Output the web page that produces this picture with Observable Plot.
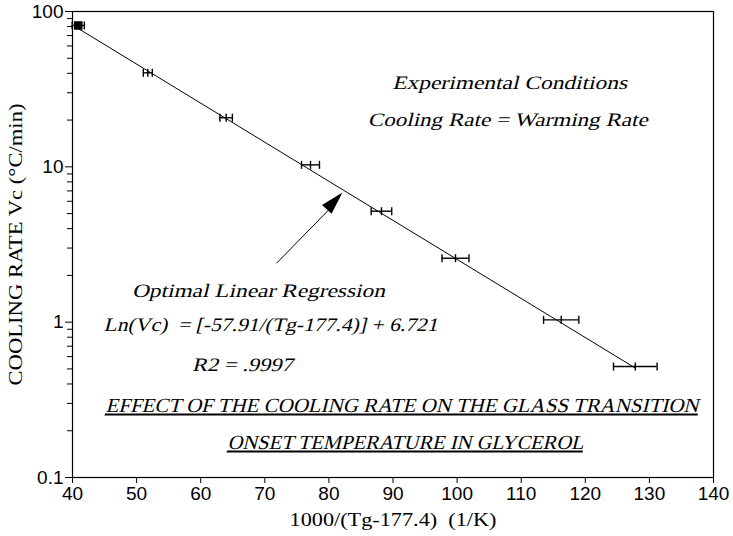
<!DOCTYPE html>
<html><head><meta charset="utf-8">
<script src="https://cdn.jsdelivr.net/npm/d3@7"></script>
<script src="https://cdn.jsdelivr.net/npm/@observablehq/plot@0.6"></script>
<style>body{margin:0;background:#fff} svg text{white-space:pre}</style>
</head><body><div id="chart"></div>
<script>
// Data
const invTg = [40.9, 51.75, 63.97, 77.13, 88.2, 99.75, 116.24, 127.8];       // 1000/(Tg-177.4)
const coolingRate = [81.3, 40.3, 20.7, 10.3, 5.18, 2.58, 1.035, 0.518];      // Vc (°C/min)
const invTgErr = [0.95, 0.7, 0.97, 1.4, 1.6, 2.1, 2.75, 3.4];               // horizontal error half-width
const xTicks = [40, 50, 60, 70, 80, 90, 100, 110, 120, 130, 140];
const yMajorTicks = [0.1, 1, 10, 100];
const yMinorTicks = [0.2, 0.3, 0.4, 0.5, 0.6, 0.7, 0.8, 0.9, 2, 3, 4, 5, 6, 7, 8, 9, 20, 30, 40, 50, 60, 70, 80, 90];
const regSlope = -57.91;   // Ln(Vc) = regSlope/(Tg-177.4) + regIntercept
const regIntercept = 6.721;
const notes = ["Experimental Conditions", "Cooling Rate = Warming Rate", "Optimal Linear Regression", "Ln(Vc)  = [-57.91/(Tg-177.4)] + 6.721", "R2 = .9997"];
const titleLines = ["EFFECT OF THE COOLING RATE ON THE GLASS TRANSITION", "ONSET TEMPERATURE IN GLYCEROL"];
const xLabel = "1000/(Tg-177.4)  (1/K)";
const yLabel = "COOLING RATE Vc (°C/min)";

const points = invTg.map((x, i) => ({x, vc: coolingRate[i], lo: x - invTgErr[i], hi: x + invTgErr[i], first: i === 0}));
const fitEnds = [invTg[0], invTg[invTg.length - 1]].map(x => ({x, vc: Math.exp(regSlope * x / 1000 + regIntercept)}));

const vTick = {draw(ctx) { ctx.moveTo(0, -4); ctx.lineTo(0, 4); }};
const headUp = {draw(ctx) { ctx.moveTo(0, 0); ctx.lineTo(-6.5, 23); ctx.lineTo(6.5, 23); ctx.closePath(); }};

const serif = "Liberation Serif, DejaVu Serif, serif";
const sans = "Liberation Sans, Arial, sans-serif";
const noteStyle = {text: d => d, textAnchor: "middle", lineAnchor: "bottom", fontSize: 19, fontFamily: serif};

const svg = Plot.plot({
  width: 733, height: 536,
  marginLeft: 72, marginRight: 20, marginTop: 11, marginBottom: 59,
  style: {background: "#fff", color: "#000"},
  x: {domain: [40, 140]},
  y: {type: "log", domain: [0.1, 100]},
  marks: [
    Plot.frame({stroke: "#000", strokeWidth: 1.2}),
    Plot.axisX({ticks: xTicks, tickSize: 6, tickPadding: 3, fontSize: 19, fontFamily: sans, label: null, tickFormat: d => String(d)}),
    Plot.axisY({ticks: yMinorTicks, tickSize: 5, tickFormat: () => "", label: null}),
    Plot.axisY({ticks: yMajorTicks, tickSize: 7, tickPadding: 2, fontSize: 19, fontFamily: sans, label: null, tickFormat: d => String(d)}),
    Plot.line(fitEnds, {x: "x", y: "vc", stroke: "#000", strokeWidth: 1}),
    Plot.ruleY(points, {y: "vc", x1: "lo", x2: "hi", stroke: "#000", strokeWidth: 1.4}),
    Plot.dot(points, {x: "lo", y: "vc", symbol: vTick, stroke: "#000", strokeWidth: 1.4, fill: "none"}),
    Plot.dot(points, {x: "hi", y: "vc", symbol: vTick, stroke: "#000", strokeWidth: 1.4, fill: "none"}),
    Plot.dot(points.filter(d => !d.first), {x: "x", y: "vc", symbol: vTick, stroke: "#000", strokeWidth: 1.4, fill: "none"}),
    Plot.dot(points.filter(d => d.first), {x: "x", y: "vc", symbol: "square", r: 4, fill: "#000", stroke: "#000"}),
    // annotation arrow
    Plot.link([0], {x1: 71.83, y1: 2.395, x2: 81.2, y2: 5.95, stroke: "#000", strokeWidth: 1}),
    Plot.dot([0], {x: 82.12, y: 6.83, symbol: headUp, rotate: 43, fill: "#000", stroke: "none"}),
    // annotations
    Plot.text([notes[0]], {...noteStyle, x: 108.2, y: 31.9}),
    Plot.text([notes[1]], {...noteStyle, x: 107.9, y: 18.45}),
    Plot.text([notes[2]], {...noteStyle, x: 69.0, y: 1.446}),
    Plot.text([notes[3]], {...noteStyle, x: 70.9, y: 0.883}),
    Plot.text([notes[4]], {...noteStyle, x: 66.5, y: 0.488}),
    Plot.text([titleLines[0]], {...noteStyle, x: 91.4, y: 0.2656, fontSize: 20}),
    Plot.text([titleLines[1]], {...noteStyle, x: 91.95, y: 0.1535, fontSize: 20}),
    // axis labels
    Plot.text([xLabel], {frameAnchor: "bottom", dy: 48, text: d => d, textAnchor: "middle", lineAnchor: "bottom", fontSize: 19, fontFamily: serif}),
    Plot.text([yLabel], {frameAnchor: "left", dx: -57, rotate: -90, text: d => d, textAnchor: "middle", lineAnchor: "middle", fontSize: 19, fontFamily: serif})
  ]
});

const fitWidths = new Map([
  [notes[0], 235], [notes[1], 280], [notes[2], 253], [notes[3], 334], [notes[4], 101],
  [titleLines[0], 593], [titleLines[1], 356], [xLabel, 207], [yLabel, 282]
]);
const slanted = new Set([...notes, ...titleLines]);
d3.select(svg).selectAll("text").each(function() {
  const t = this.textContent;
  if (fitWidths.has(t)) {
    this.setAttribute("textLength", fitWidths.get(t));
    this.setAttribute("lengthAdjust", "spacingAndGlyphs");
  }
  if (slanted.has(t)) {
    let tr = this.getAttribute("transform");
    if (!tr) {
      const x = this.getAttribute("x") || 0, y = this.getAttribute("y") || 0;
      this.removeAttribute("x"); this.removeAttribute("y");
      tr = `translate(${x},${y})`;
    }
    this.setAttribute("transform", tr + " skewX(-14)");
  }
  if (titleLines.includes(t)) this.style.textDecoration = "underline";
});
document.getElementById("chart").appendChild(svg);
</script>
</body></html>
